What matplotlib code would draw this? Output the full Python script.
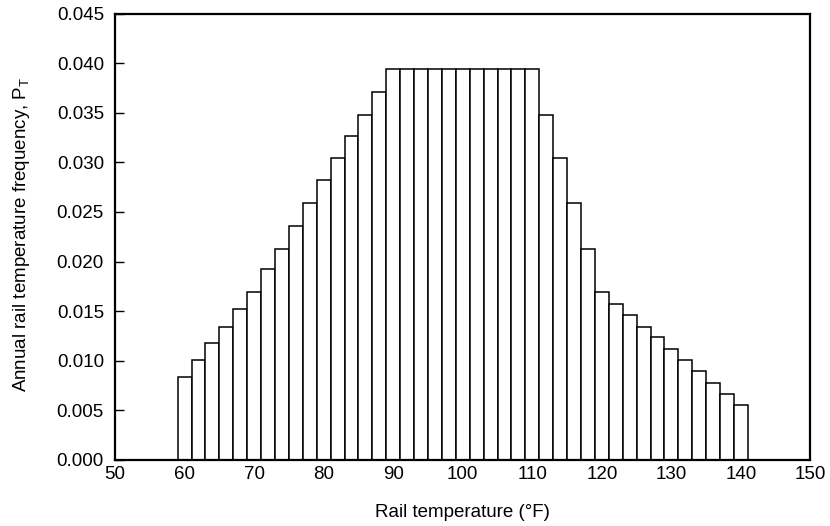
import matplotlib
matplotlib.use("Agg")
import matplotlib.pyplot as plt

plt.rcParams['font.family'] = ['Liberation Sans', 'DejaVu Sans']

# Rail temperature bins (°F, bin centres, 2 °F wide) and annual frequency
temps = [60, 62, 64, 66, 68, 70, 72, 74, 76, 78, 80, 82, 84, 86, 88,
         90, 92, 94, 96, 98, 100, 102, 104, 106, 108, 110,
         112, 114, 116, 118, 120, 122, 124, 126, 128, 130, 132, 134, 136, 138, 140]
freq = [0.0084, 0.0101, 0.0118, 0.0134, 0.0152, 0.0169, 0.0192, 0.0213, 0.0236, 0.0259,
        0.0282, 0.0304, 0.0327, 0.0348, 0.0371,
        0.0394, 0.0394, 0.0394, 0.0394, 0.0394, 0.0394, 0.0394, 0.0394, 0.0394, 0.0394, 0.0394,
        0.0348, 0.0304, 0.0259, 0.0213, 0.0169, 0.0157, 0.0146, 0.0134, 0.0124, 0.0112,
        0.0101, 0.0090, 0.0078, 0.0067, 0.0055]
bin_width = 2

x_ticks = [50, 60, 70, 80, 90, 100, 110, 120, 130, 140, 150]
y_ticks = [0.000, 0.005, 0.010, 0.015, 0.020, 0.025, 0.030, 0.035, 0.040, 0.045]

fs = 13.5

fig = plt.figure(figsize=(8.3, 5.26), dpi=100)
ax = fig.add_axes([0.1386, 0.1255, 0.8379, 0.8488])

ax.bar(temps, freq, width=bin_width, color='white', edgecolor='black', linewidth=1.1)

ax.set_xlim(50, 150)
ax.set_ylim(0, 0.045)
ax.set_xticks(x_ticks)
ax.set_yticks(y_ticks)
ax.set_yticklabels([f"{v:.3f}" for v in y_ticks])

ax.tick_params(axis='y', direction='in', length=6.5, width=1.0, labelsize=fs, pad=8)
ax.tick_params(axis='x', length=0, labelsize=fs, pad=4)

for s in ax.spines.values():
    s.set_linewidth(1.6)

ax.set_xlabel("Rail temperature (°F)", fontsize=fs, va='center')
ax.set_ylabel("Annual rail temperature frequency, P$_\\mathregular{T}$", fontsize=fs, va='center')
ax.xaxis.set_label_coords(0.5, -0.117)
ax.yaxis.set_label_coords(-0.134, 0.505)

fig.savefig("out.png", dpi=100)
